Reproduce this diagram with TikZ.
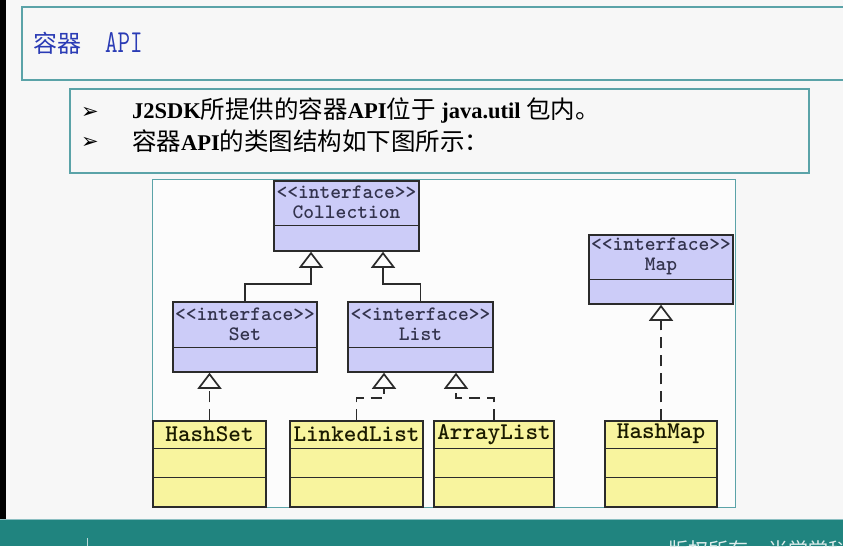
\documentclass[tikz,border=0pt]{standalone}
\usepackage{fontspec}
\setmainfont{Liberation Serif}
\newfontfamily\cjk{Noto Sans CJK SC}
\newfontfamily\dejavu{DejaVu Sans}
\usetikzlibrary{arrows.meta,positioning}

\definecolor{bg}{HTML}{F7F7F7}
\definecolor{frame}{HTML}{5BA3A8}
\definecolor{footer}{HTML}{20847F}
\definecolor{titleblue}{HTML}{2A3BB5}
\definecolor{ifill}{HTML}{CCCCF8}
\definecolor{cfill}{HTML}{F8F49E}
\definecolor{boxline}{HTML}{2B2B2B}
\definecolor{itext}{HTML}{33334D}
\definecolor{ctext}{HTML}{1A1A00}

\tikzset{
  ibox/.style={draw=boxline, fill=ifill, line width=1.5pt, inner sep=0pt},
  cbox/.style={draw=boxline, fill=cfill, line width=1.5pt, inner sep=0pt},
  ilabel/.style={font=\ttfamily\bfseries\fontsize{20.5}{20}\selectfont, text=itext, align=center, inner sep=0pt},
  clabel/.style={font=\ttfamily\bfseries\fontsize{24}{24}\selectfont, text=ctext, inner sep=0pt},
  split/.style={draw=boxline, line width=1.5pt},
  gen/.style={draw=boxline, line width=1.7pt, -{Triangle[open, length=16pt, width=24pt]}},
  real/.style={gen, dash pattern=on 11pt off 7pt},
  panel/.style={draw=frame, line width=1.2pt},
}

\begin{document}
\begin{tikzpicture}[x=1pt, y=-1pt]
    \useasboundingbox (0,0) rectangle (843,546);
    \clip (0,0) rectangle (843,546);

    % 背景与页框
    \fill[bg] (0,0) rectangle (843,546);
    \fill[black] (0,0) rectangle (6,519);
    \draw[panel] (22,7) rectangle (860,80);
    \draw[panel] (70,89) rectangle (809,173);
    \draw[draw=frame, line width=0.8pt, fill=white!60!bg] (152,179) rectangle (735,507);

    % 标题
    \node[anchor=base west, inner sep=0pt, text=titleblue] (title) at (33,52)
      {{\cjk\fontsize{24}{24}\selectfont 容器}\hspace{24pt}\scalebox{0.76}[1]{\ttfamily\fontsize{32}{32}\selectfont API}};

    % 要点
    \node[anchor=base west, inner sep=0pt, font=\dejavu\fontsize{21}{21}\selectfont] (b1) at (81,118) {➢};
    \node[anchor=base west, inner sep=0pt, font=\dejavu\fontsize{21}{21}\selectfont] (b2) at (81,148) {➢};
    \node[anchor=base west, inner sep=0pt, font=\bfseries\fontsize{22.5}{22}\selectfont] (t1) at (132,118)
      {J2SDK{\cjk\mdseries\fontsize{24.5}{24}\selectfont 所提供的容器}API{\cjk\mdseries\fontsize{24.5}{24}\selectfont 位于} java.util {\cjk\mdseries\fontsize{24.5}{24}\selectfont 包内。}};
    \node[anchor=base west, inner sep=0pt, font=\bfseries\fontsize{22.5}{22}\selectfont] (t2) at (132,150)
      {{\cjk\mdseries\fontsize{24.5}{24}\selectfont 容器}API{\cjk\mdseries\fontsize{24.5}{24}\selectfont 的类图结构如下图所示：}};

    % 接口
    \node[ibox, minimum width=145pt, minimum height=70pt] (coll) at (346.5,216) {};
    \draw[split] ([yshift=-45pt]coll.north west) -- ([yshift=-45pt]coll.north east);
    \node[ilabel] (coll-t) at ([yshift=-22.5pt]coll.north) {<<interface>>\\Collection};

    \node[ibox, minimum width=144pt, minimum height=70pt] (set) at (245,337) {};
    \draw[split] ([yshift=-46pt]set.north west) -- ([yshift=-46pt]set.north east);
    \node[ilabel] (set-t) at ([yshift=-23pt]set.north) {<<interface>>\\Set};

    \node[ibox, minimum width=145pt, minimum height=70pt] (list) at (420.5,337) {};
    \draw[split] ([yshift=-46pt]list.north west) -- ([yshift=-46pt]list.north east);
    \node[ilabel] (list-t) at ([yshift=-23pt]list.north) {<<interface>>\\List};

    \node[ibox, minimum width=144pt, minimum height=69pt] (map) at (661,269.5) {};
    \draw[split] ([yshift=-45pt]map.north west) -- ([yshift=-45pt]map.north east);
    \node[ilabel] (map-t) at ([yshift=-22.5pt]map.north) {<<interface>>\\Map};

    % 实现类
    \node[cbox, minimum width=113pt, minimum height=86pt] (hs) at (209.5,464) {};
    \draw[split] ([yshift=-28pt]hs.north west) -- ([yshift=-28pt]hs.north east);
    \draw[split] ([yshift=-57pt]hs.north west) -- ([yshift=-57pt]hs.north east);
    \node[clabel] (hs-t) at ([yshift=-14pt]hs.north) {HashSet};

    \node[cbox, minimum width=133pt, minimum height=86pt] (ll) at (356.5,464) {};
    \draw[split] ([yshift=-28pt]ll.north west) -- ([yshift=-28pt]ll.north east);
    \draw[split] ([yshift=-57pt]ll.north west) -- ([yshift=-57pt]ll.north east);
    \node[clabel] (ll-t) at ([yshift=-14pt]ll.north) {LinkedList};

    \node[cbox, minimum width=120pt, minimum height=86pt] (al) at (494,464) {};
    \draw[split] ([yshift=-28pt]al.north west) -- ([yshift=-28pt]al.north east);
    \draw[split] ([yshift=-57pt]al.north west) -- ([yshift=-57pt]al.north east);
    \node[clabel] (al-t) at ([yshift=-14pt]al.north) {ArrayList};

    \node[cbox, minimum width=112pt, minimum height=86pt] (hm) at (661,464) {};
    \draw[split] ([yshift=-28pt]hm.north west) -- ([yshift=-28pt]hm.north east);
    \draw[split] ([yshift=-57pt]hm.north west) -- ([yshift=-57pt]hm.north east);
    \node[clabel] (hm-t) at ([yshift=-14pt]hm.north) {HashMap};

    % 继承与实现
    \draw[gen] (set.north) -- ++(0,-17) -| ([xshift=-35.5pt]coll.south);
    \draw[gen] (list.north) -- ++(0,-17) -| ([xshift=36.5pt]coll.south);
    \draw[real] (hs.north) -- (hs.north |- set.south);
    \draw[real] (ll.north) -- ++(0,-22) -| ([xshift=-36.5pt]list.south);
    \draw[real] (al.north) -- ++(0,-22) -| ([xshift=35.5pt]list.south);
    \draw[real] (hm.north) -- (map.south);

    % 页脚
    \fill[footer] (0,519) rectangle (843,546);
    \draw[draw=frame!70!white, line width=1pt] (0,519.5) -- (843,519.5);
    \draw[draw=white!70!footer, line width=0.8pt] (87,538) -- (87,546);
    \node[anchor=base west, inner sep=0pt, text=white!85!footer, font=\cjk\fontsize{20}{20}\selectfont] (copy) at (668,557) {版权所有　尚学堂科技};
\end{tikzpicture}
\end{document}
